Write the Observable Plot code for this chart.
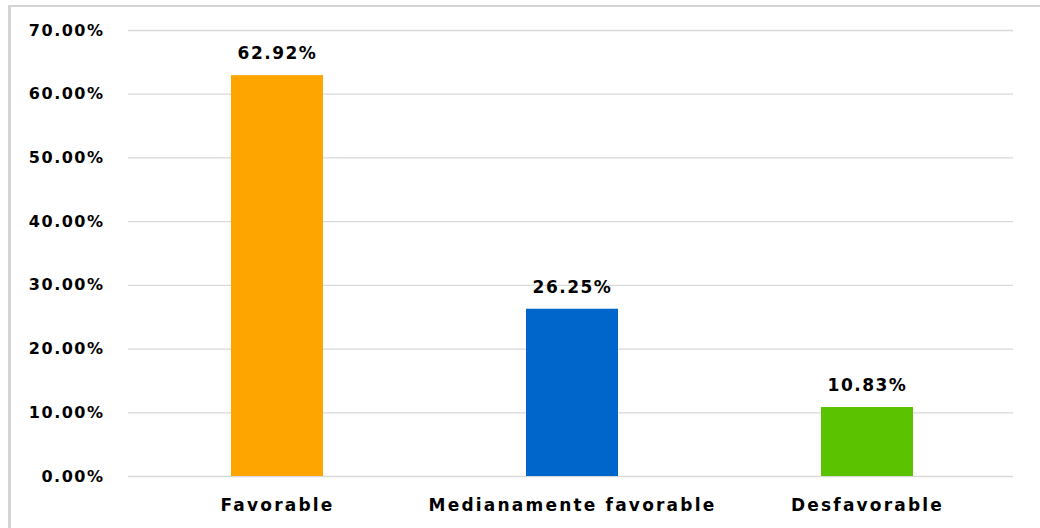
<!DOCTYPE html>
<html>
<head>
<meta charset="utf-8">
<script src="https://cdn.jsdelivr.net/npm/d3@7"></script>
<script src="https://cdn.jsdelivr.net/npm/@observablehq/plot@0.6"></script>
<style>
  html, body { margin: 0; padding: 0; background: #fff; }
  #wrap { position: relative; width: 1040px; height: 528px; overflow: hidden; }
  #border { position: absolute; left: 8px; top: 5px; width: 1100px; height: 600px;
            border-left: 3px solid #d4d4d4; border-top: 2px solid #d4d4d4; }
  #chart { position: absolute; left: 0; top: 0; }
  #chart svg { font-family: "DejaVu Sans", Verdana, sans-serif; font-weight: bold; }
  #chart svg g[aria-label="y-axis tick label"] text { letter-spacing: 1.5px; }
  #chart svg g[aria-label="x-axis tick label"] text { letter-spacing: 2.2px; }
  #chart svg g[aria-label="text"] text { letter-spacing: 1.5px; }
</style>
</head>
<body>
<div id="wrap"><div id="border"></div><div id="chart"></div></div>
<script>
const categories = ["Favorable", "Medianamente favorable", "Desfavorable"];
const values = [62.92, 26.25, 10.83];
const colors = ["#FFA500", "#0066CC", "#5BC200"];
const yTicks = [0, 10, 20, 30, 40, 50, 60, 70];

const data = categories.map((c, i) => ({category: c, value: values[i], color: colors[i]}));

const chart = Plot.plot({
  width: 1040,
  height: 528,
  marginLeft: 128,
  marginRight: 27,
  marginTop: 30,
  marginBottom: 52,
  style: {background: "transparent", color: "#000", fontSize: "16px"},
  x: {domain: categories, paddingInner: 0.688, paddingOuter: 0.344, align: 0.509, label: null},
  y: {domain: [0, 70], label: null},
  marks: [
    Plot.gridY(yTicks, {stroke: "#d9d9d9", strokeOpacity: 1, strokeWidth: 1.3}),
    Plot.axisY(yTicks, {tickSize: 0, tickPadding: 24, tickFormat: d => d.toFixed(2) + "%",
      fontSize: 16, fontWeight: "bold"}),
    Plot.axisX({tickSize: 0, tickPadding: 22, fontSize: 17, fontWeight: "bold"}),
    Plot.barY(data, {x: "category", y: "value", fill: "color"}),
    Plot.text(data, {x: "category", y: "value", text: d => d.value.toFixed(2) + "%", dy: -22,
      fontSize: 17, fontWeight: "bold", fill: "#000"})
  ]
});
document.getElementById("chart").appendChild(chart);
</script>
</body>
</html>
